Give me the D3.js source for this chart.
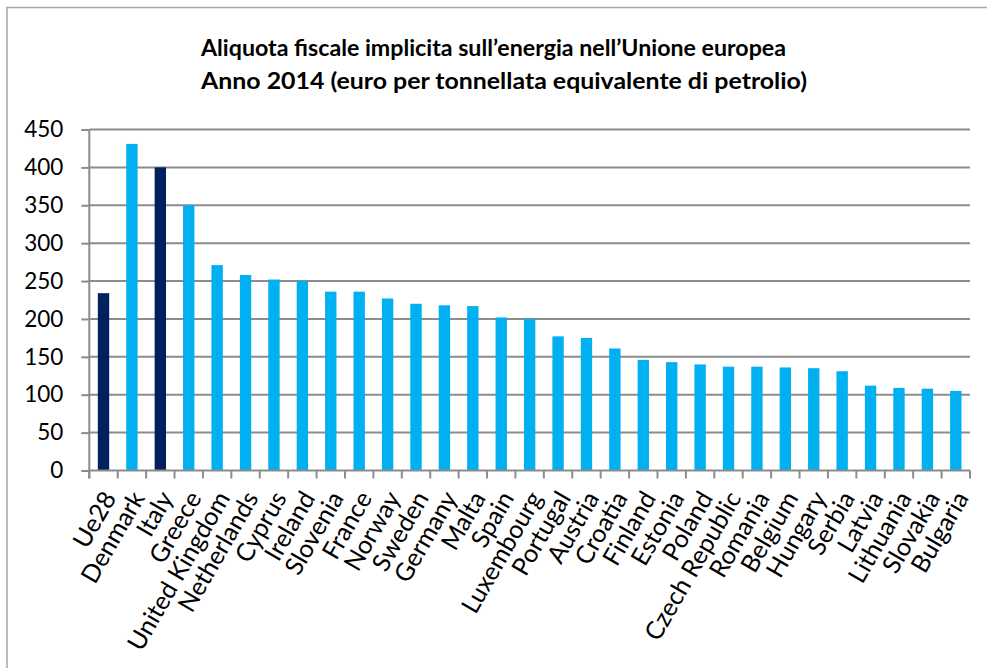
<!DOCTYPE html>
<html>
<head>
<meta charset="utf-8">
<script src="https://cdn.jsdelivr.net/npm/d3@7"></script>
<style>
  html, body { margin: 0; padding: 0; background: #fff; }
  svg { display: block; font-family: Lato, "Open Sans", sans-serif; }
</style>
</head>
<body>
<svg id="chart" width="987" height="668"></svg>
<script>
// Implicit tax rate on energy, 2014 (euro per tonne of oil equivalent)
const countries = [
  "Ue28", "Denmark", "Italy", "Greece", "United Kingdom", "Netherlands", "Cyprus",
  "Ireland", "Slovenia", "France", "Norway", "Sweden", "Germany", "Malta", "Spain",
  "Luxembourg", "Portugal", "Austria", "Croatia", "Finland", "Estonia", "Poland",
  "Czech Republic", "Romania", "Belgium", "Hungary", "Serbia", "Latvia", "Lithuania",
  "Slovakia", "Bulgaria"
];
const rates = [
  234, 431, 400, 350, 271, 258, 252,
  250, 236, 236, 227, 220, 218, 217, 202,
  200, 177, 175, 161, 146, 143, 140,
  137, 137, 136, 135, 131, 112, 109,
  108, 105
];
const highlighted = ["Ue28", "Italy"];
const yTicks = [0, 50, 100, 150, 200, 250, 300, 350, 400, 450];
const titleLines = [
  "Aliquota fiscale implicita sull\u2019energia nell\u2019Unione europea",
  "Anno 2014 (euro per tonnellata equivalente di petrolio)"
];

const data = countries.map((c, i) => ({ country: c, value: rates[i] }));

const svg = d3.select("#chart");
const plot = { left: 89.3, right: 970, top: 129.5, bottom: 470.5 };
const gridColor = "#8c8c8c";

// outer frame
svg.append("rect")
  .attr("x", 7).attr("y", 7.5)
  .attr("width", 1200).attr("height", 1000)
  .attr("fill", "#fff")
  .attr("stroke", "#a6a6a6").attr("stroke-width", 1.5);

// title, two lines sharing a left edge
const titleWidths = [585, 606];
svg.append("g").selectAll("text")
  .data(titleLines)
  .join("text")
  .attr("x", 201)
  .attr("y", (d, i) => 56 + i * 33)
  .attr("text-anchor", "start")
  .attr("font-weight", "bold")
  .attr("font-size", 23.3)
  .attr("textLength", (d, i) => titleWidths[i])
  .attr("lengthAdjust", "spacingAndGlyphs")
  .attr("fill", "#000")
  .text(d => d);

const x = d3.scaleBand()
  .domain(countries)
  .range([plot.left, plot.right])
  .paddingInner(0.6)
  .paddingOuter(0.3);

const y = d3.scaleLinear()
  .domain([0, 450])
  .range([plot.bottom, plot.top]);

// horizontal gridlines
svg.append("g").selectAll("line")
  .data(yTicks.filter(t => t > 0))
  .join("line")
  .attr("x1", plot.left).attr("x2", plot.right)
  .attr("y1", d => y(d)).attr("y2", d => y(d))
  .attr("stroke", gridColor).attr("stroke-width", 2);

// y axis
const yAxis = svg.append("g")
  .attr("transform", `translate(${plot.left},0)`)
  .call(d3.axisLeft(y).tickValues(yTicks).tickSize(8).tickPadding(18));
yAxis.select(".domain").attr("stroke", gridColor).attr("stroke-width", 2)
  .attr("d", `M0,${plot.top}V${plot.bottom + 8}`);
yAxis.selectAll(".tick line").attr("stroke", gridColor).attr("stroke-width", 2);
yAxis.selectAll(".tick text")
  .attr("font-family", "Lato, sans-serif")
  .attr("font-size", 22.5)
  .attr("fill", "#000");

// bars
svg.append("g").selectAll("rect")
  .data(data)
  .join("rect")
  .attr("x", d => x(d.country))
  .attr("width", x.bandwidth())
  .attr("y", d => y(d.value))
  .attr("height", d => y(0) - y(d.value))
  .attr("fill", d => highlighted.includes(d.country) ? "#002060" : "#00b0f0");

// x axis with ticks between categories
const xAxisG = svg.append("g").attr("transform", `translate(0,${plot.bottom})`);
xAxisG.append("line")
  .attr("x1", plot.left).attr("x2", plot.right)
  .attr("stroke", gridColor).attr("stroke-width", 2);
const boundaryX = i => plot.left + i * x.step();
xAxisG.selectAll("line.tk")
  .data(d3.range(countries.length + 1))
  .join("line")
  .attr("class", "tk")
  .attr("x1", d => boundaryX(d))
  .attr("x2", d => boundaryX(d))
  .attr("y1", 0).attr("y2", 8)
  .attr("stroke", gridColor).attr("stroke-width", 2);

// rotated category labels
xAxisG.selectAll("text")
  .data(countries)
  .join("text")
  .attr("transform", d => `translate(${x(d) + x.bandwidth() / 2 + 6},${23}) rotate(-60)`)
  .attr("text-anchor", "end")
  .attr("dy", "0.35em")
  .attr("font-size", 25)
  .attr("fill", "#000")
  .text(d => d);
</script>
</body>
</html>
